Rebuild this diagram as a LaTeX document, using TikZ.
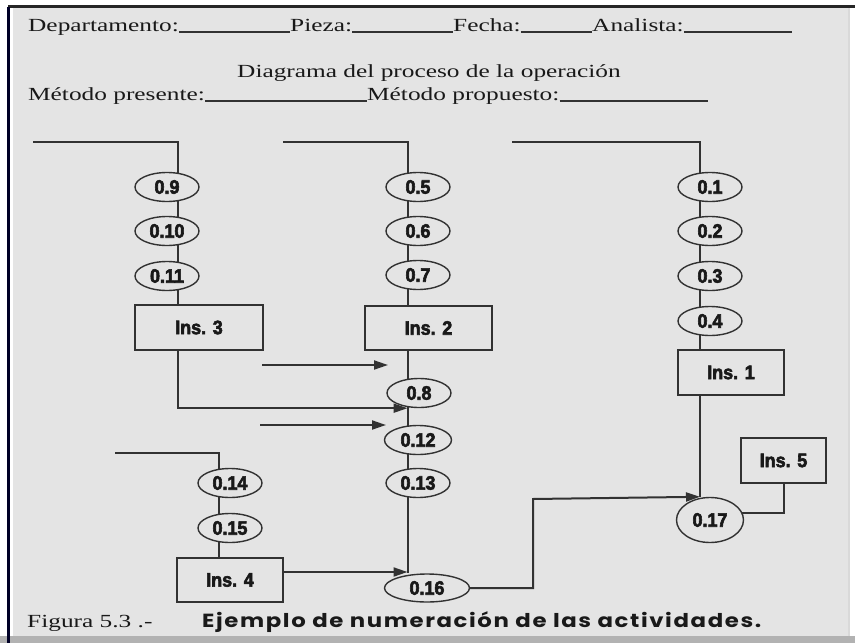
\documentclass[tikz,border=0pt]{standalone}
\usepackage{fontspec}
\usetikzlibrary{arrows.meta,backgrounds,shapes.geometric}
\newfontfamily\hdrfont{Liberation Serif}[FakeStretch=1.37]
\newfontfamily\lblfont{Liberation Sans}[FakeBold=3,FakeStretch=0.92]
\newfontfamily\capfont{Poppins}[FakeStretch=1.2,LetterSpace=8.5]
\definecolor{sheet}{RGB}{228,228,228}
\definecolor{ink}{RGB}{50,50,50}
\definecolor{txt}{RGB}{25,25,25}
\tikzset{
  hdr/.style={anchor=base west,inner sep=0pt,text=txt,font=\hdrfont\fontsize{18.5}{20}\selectfont},
  blank/.style={draw=ink,line width=1.2pt},
  op/.style={ellipse,draw=ink,line width=1.4pt,fill=sheet,inner sep=0pt,
    minimum width=64pt,minimum height=29pt,text=txt,
    font=\lblfont\bfseries\fontsize{19.5}{19.5}\selectfont},
  insp/.style={rectangle,draw=ink,line width=1.4pt,fill=sheet,inner sep=0pt,
    minimum height=45pt,text=txt,font=\lblfont\bfseries\fontsize{19.5}{19.5}\selectfont},
  flow/.style={draw=ink,line width=2pt},
  arr/.style={flow,-{Triangle[length=14pt,width=9pt]}},
}
\begin{document}
\begin{tikzpicture}[x=1pt,y=-1pt]
\useasboundingbox (0,0) rectangle (855,643);

% ---- operations and inspections ----
% column A
\node[op] (o9)  at (167,187) {0.9};
\node[op] (o10) at (167,231) {0.10};
\node[op] (o11) at (167,276) {0.11};
\node[insp,minimum width=128pt] (ins3) at (199,327.5) {Ins. 3};
% column B
\node[op] (o5)  at (418,187) {0.5};
\node[op] (o6)  at (418,231) {0.6};
\node[op] (o7)  at (418,275) {0.7};
\node[insp,minimum width=127pt,minimum height=44pt] (ins2) at (428.5,328) {Ins. 2};
\node[op] (o8)  at (419,393) {0.8};
\node[op,minimum width=67pt] (o12) at (418,440) {0.12};
\node[op] (o13) at (418,483) {0.13};
\node[op,minimum width=85pt,minimum height=28pt] (o16) at (427,588) {0.16};
% column C
\node[op] (o1)  at (710,187) {0.1};
\node[op] (o2)  at (710,231) {0.2};
\node[op] (o3)  at (710,276) {0.3};
\node[op] (o4)  at (710,321) {0.4};
\node[insp,minimum width=106pt] (ins1) at (731,372.5) {Ins. 1};
\node[op,minimum width=67pt,minimum height=45pt] (o17) at (710,520) {0.17};
\node[insp,minimum width=85pt] (ins5) at (783.5,460.5) {Ins. 5};
% column D
\node[op] (o14) at (230,483) {0.14};
\node[op] (o15) at (230,528) {0.15};
\node[insp,minimum width=106pt,minimum height=44pt] (ins4) at (230,580) {Ins. 4};

% ---- line anchors ----
\coordinate (aTop) at (33,142);  \coordinate (aLine) at (178,142);
\coordinate (bTop) at (283,142); \coordinate (bLine) at (407.5,142);
\coordinate (cTop) at (512,142); \coordinate (cLine) at (700,142);
\coordinate (dTop) at (115,453); \coordinate (dLine) at (219,453);
\coordinate (jog)  at (533,499);
\coordinate (f1s) at (262,365); \coordinate (f1e) at (388,365);
\coordinate (f2s) at (260,425); \coordinate (f2e) at (386,425);

\begin{scope}[on background layer]
  % sheet and frame
  \fill[white] (0,0) rectangle (855,643);
  \fill[sheet] (8,8) rectangle (849,636);
  \fill[black!30] (0,636) rectangle (855,643);
  \draw[white!85!black,line width=1.5pt] (849,8) -- (849,636);
  \draw[black!85,line width=2.5pt] (8,6.5) -- (855,6.5);
  \draw[black!85!blue,line width=3pt] (8,6.5) -- (8,643);
  \draw[white,line width=3pt] (11.5,8) -- (11.5,636);

  % flow lines
  \draw[flow] (aTop) -- (aLine) -- (aLine |- ins3.north);
  \draw[arr] (aLine |- ins3.south) |- (bLine |- o8.south);
  \draw[flow] (bTop) -- (bLine) -- (bLine |- ins2.north);
  \draw[flow] (bLine |- ins2.south) -- (bLine |- o16.north);
  \draw[arr] (f1s) -- (f1e);
  \draw[arr] (f2s) -- (f2e);
  \draw[flow] (cTop) -- (cLine) -- (cLine |- ins1.north);
  \draw[flow] (cLine |- ins1.south) -- (cLine |- o17.north);
  \draw[flow] (dTop) -- (dLine) -- (dLine |- ins4.north);
  \draw[arr] ([yshift=8pt]ins4.east) -- ([yshift=8pt]ins4.east -| bLine);
  \draw[arr] (o16.center) -| (jog) -- (cLine |- o17.north);
  \draw[flow] ([yshift=7pt]o17.center) -| (ins5.south);
\end{scope}

% ---- form header ----
\node[hdr] (dep) at (28,31) {Departamento:};
\node[hdr] (pie) at (290,31) {Pieza:};
\node[hdr] (fec) at (453,31) {Fecha:};
\node[hdr] (ana) at (592,31) {Analista:};
\coordinate (anaEnd) at (792,32);
\draw[blank] ([yshift=-1pt]dep.base east) -- ([yshift=-1pt]pie.base west);
\draw[blank] ([yshift=-1pt]pie.base east) -- ([yshift=-1pt]fec.base west);
\draw[blank] ([yshift=-1pt]fec.base east) -- ([yshift=-1pt]ana.base west);
\draw[blank] ([yshift=-1pt]ana.base east) -- (anaEnd);
\node[hdr] (tit) at (237,77) {Diagrama del proceso de la operación};
\node[hdr] (mpr) at (28,100) {Método presente:};
\node[hdr] (mpp) at (367,100) {Método propuesto:};
\coordinate (mppEnd) at (708,101);
\draw[blank] ([yshift=-1pt]mpr.base east) -- ([yshift=-1pt]mpp.base west);
\draw[blank] ([yshift=-1pt]mpp.base east) -- (mppEnd);

% ---- caption ----
\node[hdr] (fig) at (27,627) {Figura 5.3 .-};
\node[anchor=base west,inner sep=0pt,text=txt,font=\capfont\bfseries\fontsize{19}{19}\selectfont]
  (cap) at (202,627) {Ejemplo de numeración de las actividades.};
\end{tikzpicture}
\end{document}
